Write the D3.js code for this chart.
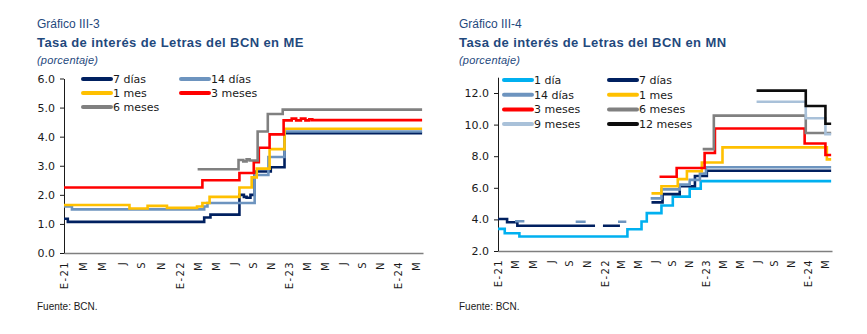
<!DOCTYPE html>
<html>
<head>
<meta charset="utf-8">
<script src="https://cdn.jsdelivr.net/npm/d3@7"></script>
<style>
  body { margin: 0; background: #fff; }
  svg { display: block; }
  .num { font: 12px "Liberation Sans", Arial, sans-serif; fill: #1f497d; }
  .ttl { font: bold 13px "Liberation Sans", Arial, sans-serif; fill: #1f497d; letter-spacing: 0.4px; }
  .unit { font: italic 11px "Liberation Sans", Arial, sans-serif; fill: #1f497d; letter-spacing: 0.2px; }
  .src { font: 10px "Liberation Sans", Arial, sans-serif; fill: #1a1a1a; }
  .axis text { font: 11px "DejaVu Sans", Verdana, sans-serif; fill: #1a1a1a; }
  .xaxis text { font-size: 10px; letter-spacing: 1.4px; }
  .leg text { font: 11px "DejaVu Sans", Verdana, sans-serif; fill: #1a1a1a; }
</style>
</head>
<body>
<svg id="chart" width="867" height="334"></svg>
<script>
var parse = d3.timeParse("%Y-%m-%d");
var monthLetters = ["E","F","M","A","M","J","J","A","S","O","N","D"];
var yearBreaks = ["2021-01-01","2022-01-01","2023-01-01","2024-01-01","2024-03-25"];

// Gráfico III-3 : moneda extranjera
var meLabels = ["7 días","14 días","1 mes","3 meses","6 meses"];
var meColors = ["#002060","#6d94bf","#ffc000","#ff0000","#808080"];
var meTicks = [0,1,2,3,4,5,6];
var me7dias = [["2021-01-01",1.18],["2021-01-13",1.07],["2022-03-23",1.22],["2022-04-13",1.32],
  ["2022-07-19",2.0],["2022-08-03",1.93],["2022-08-12",1.9],["2022-08-25",2.0],["2022-09-08",2.8],
  ["2022-11-01",2.95],["2022-12-17",4.12],["2024-03-22",4.12]];
var me14dias = [["2021-01-01",1.6],["2021-01-26",1.5],["2022-03-23",1.6],["2022-04-03",1.72],
  ["2022-09-08",2.68],["2022-10-24",3.3],["2022-12-17",4.18],["2024-03-22",4.18]];
var me1mes = [["2021-01-01",1.65],["2021-07-26",1.53],["2021-09-21",1.62],["2021-11-21",1.55],
  ["2022-02-27",1.6],["2022-03-17",1.72],["2022-04-10",1.93],["2022-07-19",2.25],["2022-08-29",2.6],
  ["2022-09-15",2.9],["2022-10-28",3.57],["2022-12-17",4.27],["2024-03-22",4.27]];
var me3meses = [["2021-01-01",2.25],["2022-03-17",2.5],["2022-07-19",2.75],["2022-09-05",3.12],
  ["2022-09-22",3.62],["2022-10-28",4.08],["2022-12-14",4.56],["2023-01-10",4.62],["2023-01-25",4.56],
  ["2023-02-10",4.62],["2023-02-25",4.56],["2023-03-10",4.6],["2023-03-20",4.57],["2024-03-22",4.57]];
var me6meses = [["2022-03-01",2.88],["2022-07-16",3.2],["2022-08-01",3.15],["2022-08-12",3.22],
  ["2022-08-22",3.18],["2022-09-18",4.18],["2022-10-22",4.78],["2022-12-11",4.93],["2024-03-22",4.93]];

// Gráfico III-4 : moneda nacional
var mnLabels = ["1 día","7 días","14 días","1 mes","3 meses","6 meses","9 meses","12 meses"];
var mnColors = ["#00b0f0","#002060","#6d94bf","#ffc000","#ff0000","#808080","#a9c1d9","#0d0d0d"];
var mnTicks = [2,4,6,8,10,12];
var mn1dia = [["2021-01-01",3.4],["2021-01-24",3.12],["2021-03-15",2.92],["2022-03-23",3.38],
  ["2022-05-13",3.87],["2022-06-01",4.4],["2022-07-24",4.88],["2022-09-03",5.44],["2022-11-03",5.95],
  ["2022-12-13",6.42],["2024-03-22",6.42]];
var mn7dias = [["2021-01-01",4.03],["2021-02-01",3.82],["2021-03-08",3.6],["2021-11-28",3.6],["2021-11-29",null],
  ["2021-12-25",3.6],["2022-02-24",3.6],["2022-02-25",null],
  ["2022-06-18",5.08],["2022-07-28",5.6],["2022-09-28",6.1],["2022-11-22",6.75],["2023-01-04",7.08],["2024-03-22",7.08]];
var mn14dias = [["2021-02-28",3.88],["2021-04-01",3.88],["2021-04-02",null],
  ["2021-09-23",3.85],["2021-10-27",3.85],["2021-10-28",null],
  ["2022-02-17",3.85],["2022-03-19",3.85],["2022-03-20",null],
  ["2022-06-15",5.33],["2022-07-24",5.9],["2022-09-28",6.2],["2022-11-03",6.5],["2022-12-10",6.9],
  ["2023-01-01",7.3],["2024-03-22",7.3]];
var mn1mes = [["2022-06-18",5.65],["2022-07-24",6.1],["2022-09-21",6.55],["2022-10-24",7.05],
  ["2022-12-17",7.6],["2023-03-01",8.56],["2024-03-07",7.8],["2024-03-22",7.8]];
var mn3meses = [["2022-07-17",6.7],["2022-09-17",7.25],["2022-12-27",8.2],["2023-02-02",9.75],
  ["2023-12-20",8.8],["2024-03-02",8.08],["2024-03-22",8.08]];
var mn6meses = [["2022-12-20",8.45],["2023-01-29",10.57],["2023-12-24",9.47],["2024-03-22",9.47]];
var mn9meses = [["2023-07-01",11.45],["2023-12-24",10.4],["2024-03-02",9.4],["2024-03-22",9.4]];
var mn12meses = [["2023-07-01",12.15],["2023-12-24",11.18],["2024-03-02",10.05],["2024-03-22",10.05]];

var svg = d3.select("#chart");

function panel(o) {
  var g = svg.append("g");
  g.append("text").attr("class", "num").attr("x", o.tx).attr("y", 28).text(o.num);
  g.append("text").attr("class", "ttl").attr("x", o.tx).attr("y", 47).text(o.title);
  g.append("text").attr("class", "unit").attr("x", o.tx).attr("y", 64).text("(porcentaje)");
  g.append("text").attr("class", "src").attr("x", o.tx).attr("y", 310).text("Fuente: BCN.");

  var x = d3.scaleTime().domain(yearBreaks.map(parse)).range(o.xr);
  var y = d3.scaleLinear().domain(o.yd).range(o.yr);
  var x0 = o.xr[0], x1 = o.xr[o.xr.length - 1];

  var xa = g.append("g").attr("class", "axis xaxis")
    .attr("transform", "translate(0," + y(o.yd[0]) + ")")
    .call(d3.axisBottom(x)
      .tickValues(d3.timeMonth.every(2).range(parse("2021-01-01"), parse("2024-03-02")))
      .tickSize(0).tickSizeOuter(0)
      .tickFormat(function(d) {
        return d.getMonth() === 0 ? "E-" + d3.timeFormat("%y")(d) : monthLetters[d.getMonth()];
      }));
  xa.select(".domain").attr("stroke", "#7f7f7f").attr("stroke-width", 1.3);
  xa.selectAll("text")
    .attr("transform", "rotate(-90)")
    .attr("x", -8).attr("y", 0).attr("dy", "0.36em")
    .style("text-anchor", "end");

  var ya = g.append("g").attr("class", "axis")
    .attr("transform", "translate(" + x0 + ",0)")
    .call(d3.axisLeft(y).tickValues(o.ticks).tickFormat(d3.format(".1f"))
      .tickSize(4).tickPadding(5).tickSizeOuter(0));
  ya.select(".domain").attr("stroke", "#1a1a1a");
  ya.selectAll(".tick line").attr("stroke", "#1a1a1a");

  var line = d3.line()
    .defined(function(d) { return d[1] != null; })
    .x(function(d) { return x(parse(d[0])); })
    .y(function(d) { return y(d[1]); })
    .curve(d3.curveStepAfter);

  o.series.forEach(function(s, i) {
    g.append("path").datum(s)
      .attr("d", line)
      .attr("fill", "none")
      .attr("stroke", o.colors[i])
      .attr("stroke-width", 2.6);
  });

  var leg = g.append("g").attr("class", "leg");
  o.labels.forEach(function(lab, i) {
    var lx = o.legX[i % 2], ly = o.legY + Math.floor(i / 2) * o.legDy;
    leg.append("line")
      .attr("x1", lx).attr("x2", lx + 28).attr("y1", ly).attr("y2", ly)
      .attr("stroke", o.colors[i]).attr("stroke-width", 4).attr("stroke-linecap", "round");
    leg.append("text").attr("x", lx + 30).attr("y", ly).attr("dy", "0.36em").text(lab);
  });
}

panel({
  num: "Gráfico III-3", title: "Tasa de interés de Letras del BCN en ME", tx: 37,
  xr: [64, 180, 289, 398, 423], yd: [0, 6], yr: [253, 78.5], ticks: meTicks,
  series: [me7dias, me14dias, me1mes, me3meses, me6meses],
  labels: meLabels, colors: meColors, legX: [83, 181], legY: 79, legDy: 14
});

panel({
  num: "Gráfico III-4", title: "Tasa de interés de Letras del BCN en MN", tx: 459,
  xr: [498, 605, 706, 808, 832], yd: [2, 13], yr: [251, 77.2], ticks: mnTicks,
  series: [mn1dia, mn7dias, mn14dias, mn1mes, mn3meses, mn6meses, mn9meses, mn12meses],
  labels: mnLabels, colors: mnColors, legX: [504, 609], legY: 80, legDy: 14.7
});
</script>
</body>
</html>
